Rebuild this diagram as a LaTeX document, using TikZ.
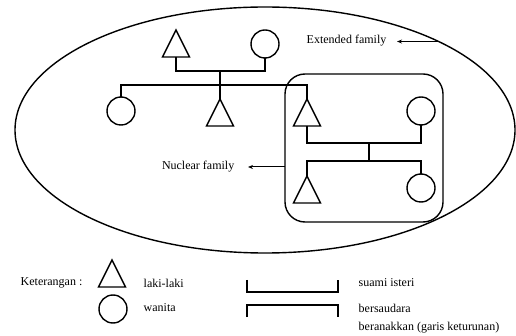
\documentclass[tikz,border=0pt]{standalone}
\usepackage{fontspec}
\setmainfont{Liberation Serif}
\usepackage{tikz}
\usetikzlibrary{shapes, arrows.meta, positioning}

\begin{document}
\begin{tikzpicture}[
  x=1pt, y=-1pt, line width=1.4pt,
  male/.style={draw, isosceles triangle, isosceles triangle stretches, shape border rotate=90, minimum width=27pt, minimum height=27pt, inner sep=0pt, outer sep=0pt, anchor=apex},
  female/.style={draw, circle, minimum size=28pt, inner sep=0pt, outer sep=0pt},
  lbl/.style={font=\fontsize{12}{14}\selectfont, inner sep=0pt, anchor=west},
  arr/.style={-{Stealth[length=5pt, width=4pt]}, line width=1pt}
]
  \useasboundingbox (0,0) rectangle (516,336);

  % outer and inner groups
  \node[draw, ellipse, minimum width=500pt, minimum height=246pt, inner sep=0pt, outer sep=0pt] (ext) at (265,130) {};
  \node[draw, rounded corners=20pt, minimum width=158pt, minimum height=148pt, outer sep=0pt] (nuc) at (364,148) {};

  % grandparents
  \node[male] (gfather) at (176,30) {};
  \node[female] (gmother) at (265,44) {};
  \coordinate (gcouple) at (220,71);
  \coordinate (gsib) at (220,85);

  % their children
  \node[female] (aunt) at (121,111) {};
  \node[male] (uncle) at (220,99) {};
  \node[male] (father) at (307,99) {};
  \node[female] (mother) at (421,111) {};
  \coordinate (ncouple) at (369,143);
  \coordinate (nsib) at (369,161);

  % grandchildren
  \node[male] (son) at (307,176) {};
  \node[female] (daughter) at (421,188) {};

  \draw (gfather.lower side) |- (gcouple) -| (gmother.south);
  \draw (gcouple) -- (uncle.apex);
  \draw (aunt.north) |- (gsib) -| (father.apex);
  \draw (father.lower side) |- (ncouple) -| (mother.south);
  \draw (ncouple) -- (nsib);
  \draw (son.apex) |- (nsib) -| (daughter.north);

  % group labels
  \node[lbl] (exttext) at (306,41) {Extended family};
  \draw[arr, shorten >=10pt] (ext.27) -- (ext.27 -| exttext.east);
  \node[lbl, anchor=east] (nuctext) at (235,167) {Nuclear family};
  \draw[arr, shorten >=13pt] (nuctext -| nuc.west) -- (nuctext.east);

  % legend
  \node[lbl] (keytext) at (20,283) {Keterangan :};
  \node[male] (keymale) at (112,260) {};
  \node[female] (keyfemale) at (113,309) {};
  \node[lbl] (maletext) at (143,283) {laki-laki};
  \node[lbl] (femaletext) at (143,308) {wanita};
  \draw (247,280) |- (338,292) -- (338,280);
  \draw (247,317) |- (338,305) -- (338,317);
  \node[lbl] (coupletext) at (358,283) {suami isteri};
  \node[lbl] (sibtext) at (358,308) {bersaudara};
  \node[lbl] (desctext) at (358,328) {beranakkan (garis keturunan)};
\end{tikzpicture}
\end{document}
